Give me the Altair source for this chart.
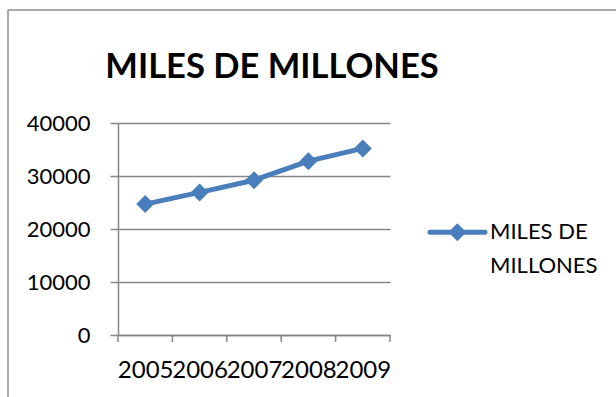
import altair as alt
import pandas as pd

# ---- data ----
years = ["2005", "2006", "2007", "2008", "2009"]
values = [24700, 26900, 29200, 32800, 35200]
y_ticks = [0, 10000, 20000, 30000, 40000]
title_text = "MILES DE MILLONES"
legend_lines = ["MILES DE", "MILLONES"]

df = pd.DataFrame({
    "year": years,
    "value": values,
    "pos": [i + 0.5 for i in range(len(years))],
})
bounds = pd.DataFrame({"b": list(range(len(years) + 1))})
one = pd.DataFrame({"k": [0]})

W, H = 272, 212
BLUE = "#4A7EBB"
GRAY = "#868686"
FONT = "Lato"

label_expr = "[" + ",".join(f"'{y}'" for y in years) + "][floor(datum.value)]"
xscale = alt.Scale(domain=[0, len(years)], nice=False, zero=False)
yscale = alt.Scale(domain=[0, 40000], nice=False)

x_axis = alt.Axis(
    values=[i + 0.5 for i in range(len(years))], labelExpr=label_expr,
    ticks=False, tickSize=0, grid=False, domain=True,
    domainColor=GRAY, domainWidth=1.5,
    labelFont=FONT, labelFontSize=24, labelColor="black",
    labelBaseline="alphabetic", labelPadding=42, title=None,
    labelAngle=0, labelFlush=False, labelOverlap=False,
)
y_axis = alt.Axis(
    values=y_ticks, format="d", grid=True, gridColor=GRAY, gridWidth=1.5,
    tickSize=8, tickColor=GRAY, tickWidth=1.5,
    domainColor=GRAY, domainWidth=1.5,
    labelPadding=20, labelFont=FONT, labelFontSize=22,
    labelColor="black", labelBaseline="middle", title=None,
)

x_main = alt.X("pos:Q", scale=xscale, axis=x_axis, title=None)
y_main = alt.Y("value:Q", scale=yscale, axis=y_axis, title=None)

line = alt.Chart(df).mark_line(
    color=BLUE, strokeWidth=5, strokeJoin="round", strokeCap="round"
).encode(x=x_main, y=y_main)

points = alt.Chart(df).mark_point(
    shape="diamond", filled=True, size=324, color=BLUE, opacity=1
).encode(x=x_main, y=y_main)

ticks = alt.Chart(bounds).mark_rule(color=GRAY, strokeWidth=1.5).encode(
    x=alt.X("b:Q", scale=xscale, axis=x_axis, title=None),
    y=alt.value(H), y2=alt.value(H + 7),
)

border_left = alt.Chart(one).mark_rule(color="#8E8E8E", strokeWidth=1.5).encode(
    x=alt.value(-110), y=alt.value(-113), y2=alt.value(280)
)
border_top = alt.Chart(one).mark_rule(color="#8E8E8E", strokeWidth=1.5).encode(
    y=alt.value(-113), x=alt.value(-110), x2=alt.value(520)
)

leg_rule = alt.Chart(one).mark_rule(color=BLUE, strokeWidth=5, strokeCap="round").encode(
    x=alt.value(312), x2=alt.value(367), y=alt.value(109.3)
)
leg_pt = alt.Chart(one).mark_point(
    shape="diamond", filled=True, size=324, color=BLUE, opacity=1
).encode(x=alt.value(339.3), y=alt.value(109.3))
leg_txt = alt.Chart(one).mark_text(
    align="left", baseline="alphabetic", font=FONT, fontSize=22,
    lineHeight=33.4, color="black",
).encode(x=alt.value(372), y=alt.value(116.3), text=alt.value(legend_lines))

title = alt.Chart(one).mark_text(
    align="center", baseline="alphabetic", font=FONT, fontSize=34.5,
    fontWeight="bold", color="black",
).encode(x=alt.value(154), y=alt.value(-45), text=alt.value(title_text))

chart = alt.layer(
    line, points, ticks, border_left, border_top, leg_rule, leg_pt, leg_txt, title
).properties(
    width=W, height=H,
    autosize=alt.AutoSizeParams(type="none"),
    padding={"left": 118, "top": 123, "right": 226, "bottom": 62},
    background="white",
).configure_view(stroke=None)

chart.save("out.html", embed_options={"renderer": "svg", "actions": False})
